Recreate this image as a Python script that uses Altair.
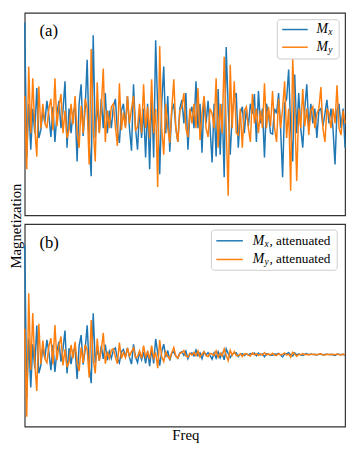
import altair as alt
import pandas as pd

# ---------------- data ----------------
freq_index = list(range(160))

mx = [9.8, -4.0, 1.5, -3.2, 1.0,
      -1.5, 3.1, -2.0, -1.2, 0.8,
      -0.5, 1.8, 0.3, -1.9, 1.2,
      -2.4, 0.5, 1.8, -1.0, 0.8,
      3.8, -3.0, 1.0, -1.5, 0.6,
      1.2, -4.4, 1.5, 3.5, -1.8,
      1.0, 6.0, -2.5, -5.9, 8.5,
      -2.0, 1.5, -1.4, 2.0, -1.0,
      2.6, -1.5, 0.8, -1.0, 1.2,
      2.0, -1.2, -2.5, 0.8, 1.5,
      -0.8, 2.3, -1.0, -3.3, 3.5,
      -1.0, -3.2, 1.0, -2.0, 1.0,
      -4.0, 1.5, -5.2, 2.5, -4.0,
      8.0, 1.0, -5.7, 1.5, 5.3,
      -1.5, 2.3, -3.4, 0.8, 1.5,
      -1.0, -2.4, 1.0, 1.9, -0.5,
      2.6, -3.2, 0.5, 1.2, -1.0,
      3.8, -1.0, 1.5, -3.5, 2.2,
      -0.5, 1.8, -1.0, -4.5, 1.5,
      -3.9, 3.0, -3.7, 1.5, -6.0,
      7.3, 1.0, -3.7, 0.5, 2.0,
      2.6, -3.0, 0.5, 1.2, -1.5,
      1.0, -0.8, 1.5, 0.5, 2.5,
      -2.4, 2.8, -0.5, 1.0, -4.0,
      1.5, 0.5, -1.5, -1.6, 1.0,
      0.5, 2.6, -1.0, -6.0, 1.5,
      2.0, 5.0, -1.0, -4.4, 4.5,
      -1.5, 2.6, -1.0, -3.0, 1.0,
      3.5, -1.0, 1.5, -0.5, 1.0,
      -2.0, 0.8, 1.0, -0.8, 0.5,
      1.9, -0.5, 1.0, -1.0, -4.7,
      0.8, 1.5, -1.0, 1.0, -3.0]

my = [2.3, -5.2, 5.3, -1.5, 4.1,
      -1.0, -3.9, 3.3, -1.0, 1.5,
      -0.5, -1.0, 1.0, 2.0, -1.2,
      4.1, -0.8, 1.2, 2.5, -1.5,
      0.8, -2.0, -1.2, 1.5, -0.6,
      2.3, -1.5, -3.0, 1.3, -1.5,
      2.0, 1.0, -4.7, 7.1, -1.0,
      -4.4, 3.7, -1.5, 1.0, 5.1,
      -2.4, 0.8, -1.0, 1.2, 1.5,
      -0.8, -2.8, 3.6, -1.2, 0.6,
      -1.0, 2.3, -0.5, 1.0, 2.3,
      -1.2, -0.9, 1.5, -1.5, 3.5,
      -1.0, 1.2, -2.0, 4.0, -1.5,
      1.0, -7.0, 7.4, -1.0, -3.7,
      1.5, -1.0, -2.5, 1.0, 4.0,
      -1.0, -2.4, 0.8, 1.2, 2.6,
      -1.0, -1.9, 1.0, -0.5, 1.5,
      -1.0, 3.1, -2.2, 0.5, 2.3,
      -1.0, -1.9, 1.0, 0.5, -1.0,
      4.1, -3.0, 1.5, -1.5, 6.3,
      -1.0, -7.9, 5.5, -1.0, 3.8,
      -1.5, -1.7, 1.0, -3.0, 0.8,
      1.2, -1.0, -2.4, 2.5, -0.5,
      1.0, -1.5, 0.8, -1.0, 3.6,
      -1.0, 1.2, -0.8, 2.8, -1.0,
      -2.4, 2.0, -1.0, 1.0, 3.8,
      -2.0, 1.0, -7.4, 6.1, 1.0,
      -6.4, 1.0, -1.0, 3.0, -0.8,
      1.0, -1.7, 0.8, 1.2, -1.0,
      0.5, 1.0, 3.2, -1.0, -2.4,
      1.0, 0.5, -1.0, 1.0, -0.5,
      3.4, -1.0, -1.7, 0.8, -0.5]

mx_att = [11.27, -4.48, 1.64, -3.39, 1.04,
          -1.44, 2.98, -1.92, -1.15, 0.77,
          -0.42, 1.51, 0.25, -1.60, 1.01,
          -1.78, 0.37, 1.33, -0.74, 0.59,
          2.47, -1.95, 0.65, -0.98, 0.39,
          0.68, -2.51, 0.86, 2.0, -1.03,
          0.5, 3.0, -1.25, -2.95, 4.25,
          -0.88, 0.66, -0.62, 0.88, -0.44,
          1.01, -0.59, 0.31, -0.39, 0.47,
          0.68, -0.41, -0.85, 0.27, 0.51,
          -0.24, 0.69, -0.3, -0.99, 1.05,
          -0.26, -0.83, 0.26, -0.52, 0.26,
          -0.92, 0.35, -1.2, 0.58, -0.92,
          1.6, 0.2, -1.14, 0.3, 1.06,
          -0.27, 0.41, -0.61, 0.14, 0.27,
          -0.16, -0.37, 0.16, 0.29, -0.08,
          0.35, -0.43, 0.07, 0.16, -0.14,
          0.46, -0.12, 0.18, -0.42, 0.26,
          -0.05, 0.19, -0.11, -0.47, 0.16,
          -0.36, 0.28, -0.34, 0.14, -0.55,
          0.58, 0.08, -0.3, 0.04, 0.16,
          0.18, -0.21, 0.04, 0.08, -0.11,
          0.06, -0.05, 0.09, 0.03, 0.16,
          -0.13, 0.15, -0.03, 0.06, -0.22,
          0.07, 0.02, -0.07, -0.08, 0.05,
          0.02, 0.11, -0.04, -0.25, 0.06,
          0.07, 0.19, -0.04, -0.16, 0.17,
          -0.05, 0.08, -0.03, -0.1, 0.03,
          0.1, -0.03, 0.04, -0.01, 0.03,
          -0.05, 0.02, 0.03, -0.02, 0.01,
          0.04, -0.01, 0.02, -0.02, -0.1,
          0.02, 0.03, -0.02, 0.02, -0.06]

my_att = [2.65, -6.4, 6.3, -1.59, 4.26,
          -0.96, -3.74, 3.17, -0.96, 1.44,
          -0.42, -0.84, 0.84, 1.68, -1.01,
          3.03, -0.59, 0.89, 1.85, -1.11,
          0.52, -1.3, -0.78, 0.98, -0.39,
          1.31, -0.86, -1.71, 0.74, -0.86,
          1.0, 0.5, -2.35, 3.55, -0.5,
          -1.94, 1.63, -0.66, 0.44, 2.24,
          -0.94, 0.31, -0.39, 0.47, 0.59,
          -0.27, -0.95, 1.22, -0.41, 0.2,
          -0.3, 0.69, -0.15, 0.3, 0.69,
          -0.31, -0.23, 0.39, -0.39, 0.91,
          -0.23, 0.28, -0.46, 0.92, -0.35,
          0.2, -1.4, 1.48, -0.2, -0.74,
          0.27, -0.18, -0.45, 0.18, 0.72,
          -0.16, -0.37, 0.12, 0.19, 0.4,
          -0.14, -0.26, 0.14, -0.07, 0.2,
          -0.12, 0.37, -0.26, 0.06, 0.28,
          -0.11, -0.2, 0.11, 0.05, -0.11,
          0.38, -0.28, 0.14, -0.14, 0.58,
          -0.08, -0.63, 0.44, -0.08, 0.3,
          -0.11, -0.12, 0.07, -0.21, 0.06,
          0.07, -0.06, -0.15, 0.16, -0.03,
          0.06, -0.08, 0.04, -0.06, 0.2,
          -0.05, 0.06, -0.04, 0.13, -0.05,
          -0.1, 0.08, -0.04, 0.04, 0.16,
          -0.07, 0.04, -0.27, 0.23, 0.04,
          -0.2, 0.03, -0.03, 0.1, -0.03,
          0.03, -0.05, 0.02, 0.03, -0.03,
          0.01, 0.03, 0.08, -0.03, -0.06,
          0.02, 0.01, -0.02, 0.02, -0.01,
          0.06, -0.02, -0.03, 0.02, -0.01]

panel_labels = ["(a)", "(b)"]
legend_subscripts = ["x", "y"]
legend_suffix_b = ", attenuated"
x_title = "Freq"
y_title = "Magnetization"

# ---------------- styling ----------------
W, H = 326, 206
BLUE, ORANGE = "#1f77b4", "#ff7f0e"
SERIF = "Liberation Serif"
one = pd.DataFrame({"k": [0]})


def lines(vx, vy, ydom):
    df = pd.DataFrame({"i": freq_index, "mx": vx, "my": vy})
    base = alt.Chart(df)
    xenc = alt.X("i:Q", axis=None,
                 scale=alt.Scale(domain=[0, 159], nice=False, zero=False))
    ysc = alt.Scale(domain=ydom, nice=False, zero=False)
    lx = base.mark_line(color=BLUE, strokeWidth=1.5).encode(
        x=xenc, y=alt.Y("mx:Q", axis=None, scale=ysc))
    ly = base.mark_line(color=ORANGE, strokeWidth=1.5).encode(
        x=xenc, y=alt.Y("my:Q", axis=None, scale=ysc))
    return [lx, ly]


def txt(text, x, y, size=12, style="normal", align="left", angle=None):
    kw = dict(text=text, font=SERIF, fontSize=size, fontStyle=style,
              align=align, baseline="middle", color="black")
    if angle is not None:
        kw["angle"] = angle
    return alt.Chart(one).mark_text(**kw).encode(x=alt.value(x), y=alt.value(y))


def box(x1, x2, y1, y2):
    return alt.Chart(one).mark_rect(
        fill="white", fillOpacity=0.8, stroke="#cccccc", strokeWidth=1,
        cornerRadius=3).encode(x=alt.value(x1), x2=alt.value(x2),
                               y=alt.value(y1), y2=alt.value(y2))


def sample(color, x1, x2, y):
    return alt.Chart(one).mark_rule(color=color, strokeWidth=1.5).encode(
        x=alt.value(x1), x2=alt.value(x2), y=alt.value(y))


top = alt.layer(
    *lines(mx, my, [-9.9, 10.8]),
    box(257, 320, 7, 47),
    sample(BLUE, 262, 288, 17),
    sample(ORANGE, 262, 288, 35),
    txt("M", 297, 17, 14, "italic"),
    txt(legend_subscripts[0], 309, 20, 9.5, "italic"),
    txt("M", 297, 35, 14, "italic"),
    txt(legend_subscripts[1], 309, 38, 9.5, "italic"),
    txt(panel_labels[0], 15, 19, 17),
    txt(y_title, -9, 217, 15, align="center", angle=270),
).properties(width=W, height=H)

bottom = alt.layer(
    *lines(mx_att, my_att, [-7.4, 13.4]),
    box(190, 318, 6, 47),
    sample(BLUE, 195, 222, 17),
    sample(ORANGE, 195, 222, 36),
    txt("M", 232, 17, 14, "italic"),
    txt(legend_subscripts[0], 244, 20, 9.5, "italic"),
    txt(legend_suffix_b, 249, 17, 13.5),
    txt("M", 232, 36, 14, "italic"),
    txt(legend_subscripts[1], 244, 39, 9.5, "italic"),
    txt(legend_suffix_b, 249, 36, 13.5),
    txt(panel_labels[1], 15, 19, 17),
    txt(x_title, 164, 215, 15, align="center"),
).properties(width=W, height=H)

chart = alt.vconcat(
    top, bottom, spacing=9, bounds="flush",
    padding={"left": 0, "top": 0, "right": 0, "bottom": 4},
).configure_view(stroke="#333333", strokeWidth=1.2)

chart.save("out.html", embed_options={"renderer": "svg", "actions": False})
